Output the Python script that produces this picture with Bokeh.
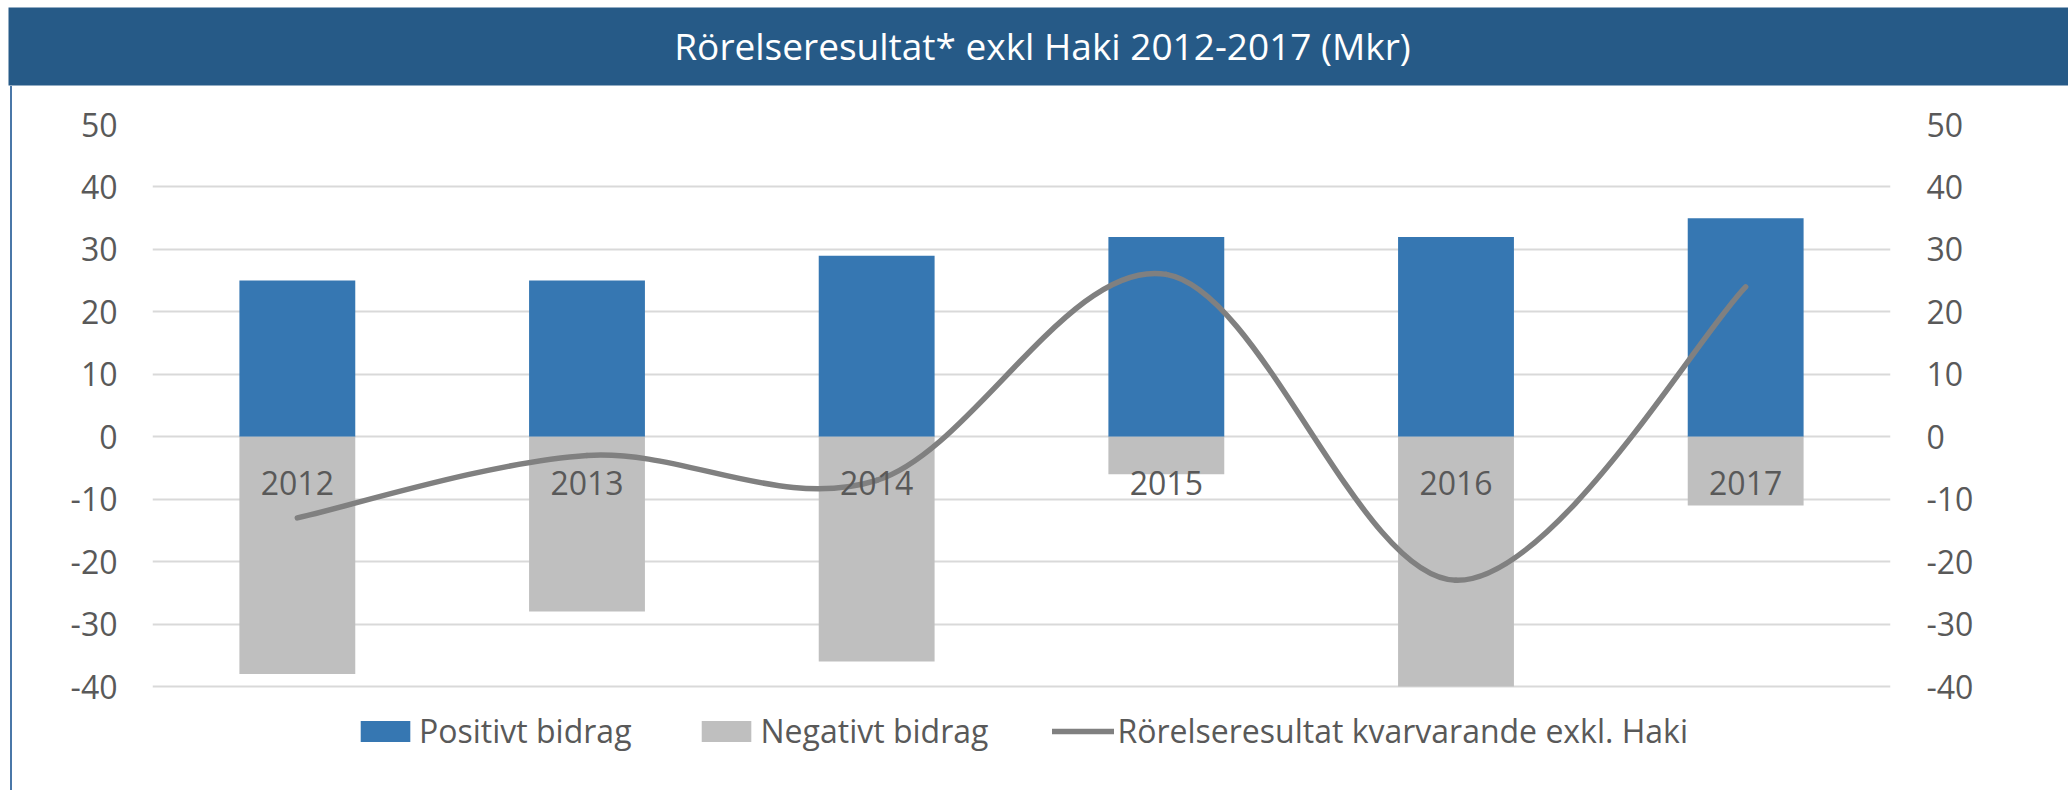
from bokeh.plotting import figure
from bokeh.models import (Range1d, LinearAxis, FixedTicker, Legend, LegendItem,
                          ColumnDataSource, Spacer)
from bokeh.layouts import column, row
from bokeh.core.properties import value
from bokeh.embed import file_html
from bokeh.resources import INLINE

# ---------------- data ----------------
title_text = "Rörelseresultat* exkl Haki 2012-2017 (Mkr)"
years = ["2012", "2013", "2014", "2015", "2016", "2017"]
positive = [25, 25, 29, 32, 32, 35]
negative = [-38, -28, -36, -6, -40, -11]
result = [-13, -3, -7, 26, -23, 24]
y_ticks = [-40, -30, -20, -10, 0, 10, 20, 30, 40, 50]
y_tick_labels = ["-40", "-30", "-20", "-10", "0", "10", "20", "30", "40", "50"]
series_names = ["Positivt bidrag", "Negativt bidrag",
                "Rörelseresultat kvarvarande exkl. Haki"]

# ---------------- styles ----------------
FONT = "Open Sans"
TXT = "#595959"
BLUE = "#3677B2"
GREY = "#BFBFBF"
LINE = "#808080"
HEAD = "#265A87"

W = 2068
TITLE_H = 86
MAIN_H = 704
TOP_BORDER = 38
GRID_SPAN_PX = 562          # pixel distance between the lowest and highest gridline
frame_h = MAIN_H - TOP_BORDER
y_top = max(y_ticks)
y_bottom = y_top - (y_top - min(y_ticks)) * frame_h / GRID_SPAN_PX  # room for legend

# ---------------- title bar ----------------
t = figure(width=W, height=TITLE_H, x_range=Range1d(0, W), y_range=Range1d(0, TITLE_H),
           output_backend="svg", toolbar_location=None,
           x_axis_location=None, y_axis_location=None,
           min_border=0, outline_line_color=None,
           background_fill_color="white", border_fill_color="white")
t.frame_align = False
t.xgrid.visible = False
t.ygrid.visible = False
t.quad(left=[8], right=[W], bottom=[1], top=[79], fill_color=HEAD, line_color=None)
t.text(x=[1042], y=[41], text=[title_text], text_color="white",
       text_font=value(FONT), text_font_size="37px",
       text_align="center", text_baseline="alphabetic")

# ---------------- main chart ----------------
idx = list(range(len(years)))
src = ColumnDataSource(dict(x=idx, year=years, pos=positive, neg=negative,
                            zero=[0] * len(years)))

p = figure(width=2056, height=MAIN_H,
           x_range=Range1d(-0.5, len(years) - 0.5),
           y_range=Range1d(y_bottom, y_top),
           output_backend="svg", toolbar_location=None,
           x_axis_location=None,
           min_border_left=140, min_border_right=178,
           min_border_top=TOP_BORDER, min_border_bottom=0,
           outline_line_color=None, background_fill_color="white",
           border_fill_color="white",
           styles={"border-left": "2px solid #4A77A8"})
p.frame_align = False
p.xgrid.visible = False

p.ygrid.grid_line_color = "#D9D9D9"
p.ygrid.grid_line_width = 2
p.ygrid.ticker = FixedTicker(ticks=y_ticks)

def style_axis(ax, standoff):
    ax.ticker = FixedTicker(ticks=y_ticks)
    ax.major_label_overrides = dict(zip(y_ticks, y_tick_labels))
    ax.axis_line_color = None
    ax.major_tick_line_color = None
    ax.minor_tick_line_color = None
    ax.major_tick_out = 0
    ax.major_tick_in = 0
    ax.major_label_standoff = standoff
    ax.major_label_text_font = FONT
    ax.major_label_text_font_size = "32px"
    ax.major_label_text_color = TXT

style_axis(p.yaxis[0], 35)
right_axis = LinearAxis()
p.add_layout(right_axis, "right")
style_axis(right_axis, 36)

r_pos = p.vbar(x="x", top="pos", bottom="zero", width=0.4, source=src,
               fill_color=BLUE, line_color=None)
r_neg = p.vbar(x="x", top="zero", bottom="neg", width=0.4, source=src,
               fill_color=GREY, line_color=None)

# smooth line (Excel-style) via Bezier segments built from the data points
n = len(result)
seg = dict(x0=[], y0=[], x1=[], y1=[], cx0=[], cy0=[], cx1=[], cy1=[])
for i in range(n - 1):
    ip, inx = max(i - 1, 0), min(i + 2, n - 1)
    seg["x0"].append(idx[i]); seg["y0"].append(result[i])
    seg["x1"].append(idx[i + 1]); seg["y1"].append(result[i + 1])
    seg["cx0"].append(idx[i] + (idx[i + 1] - idx[ip]) / 6)
    seg["cy0"].append(result[i] + (result[i + 1] - result[ip]) / 6)
    seg["cx1"].append(idx[i + 1] - (idx[inx] - idx[i]) / 6)
    seg["cy1"].append(result[i + 1] - (result[inx] - result[i]) / 6)
r_line = p.bezier(source=ColumnDataSource(seg), x0="x0", y0="y0", x1="x1", y1="y1",
                  cx0="cx0", cy0="cy0", cx1="cx1", cy1="cy1",
                  line_color=LINE, line_width=5.5, line_cap="round")

# category labels sitting under the zero line
p.text(x="x", y="zero", text="year", source=src, y_offset=46,
       text_font=value(FONT), text_font_size="32px", text_color=TXT,
       text_align="center", text_baseline="alphabetic")

legend = Legend(items=[LegendItem(label=series_names[0], renderers=[r_pos]),
                       LegendItem(label=series_names[1], renderers=[r_neg]),
                       LegendItem(label=series_names[2], renderers=[r_line])],
                orientation="horizontal", location="bottom_center",
                label_text_font=FONT, label_text_font_size="32px",
                label_text_color=TXT, glyph_width=62, glyph_height=26,
                label_standoff=3, spacing=64, padding=5, margin=38,
                border_line_color=None, background_fill_alpha=0)
p.add_layout(legend, "center")

layout = column(t, row(Spacer(width=10, height=MAIN_H), p, spacing=0), spacing=0)
open("out.html", "w").write(file_html(layout, INLINE))
